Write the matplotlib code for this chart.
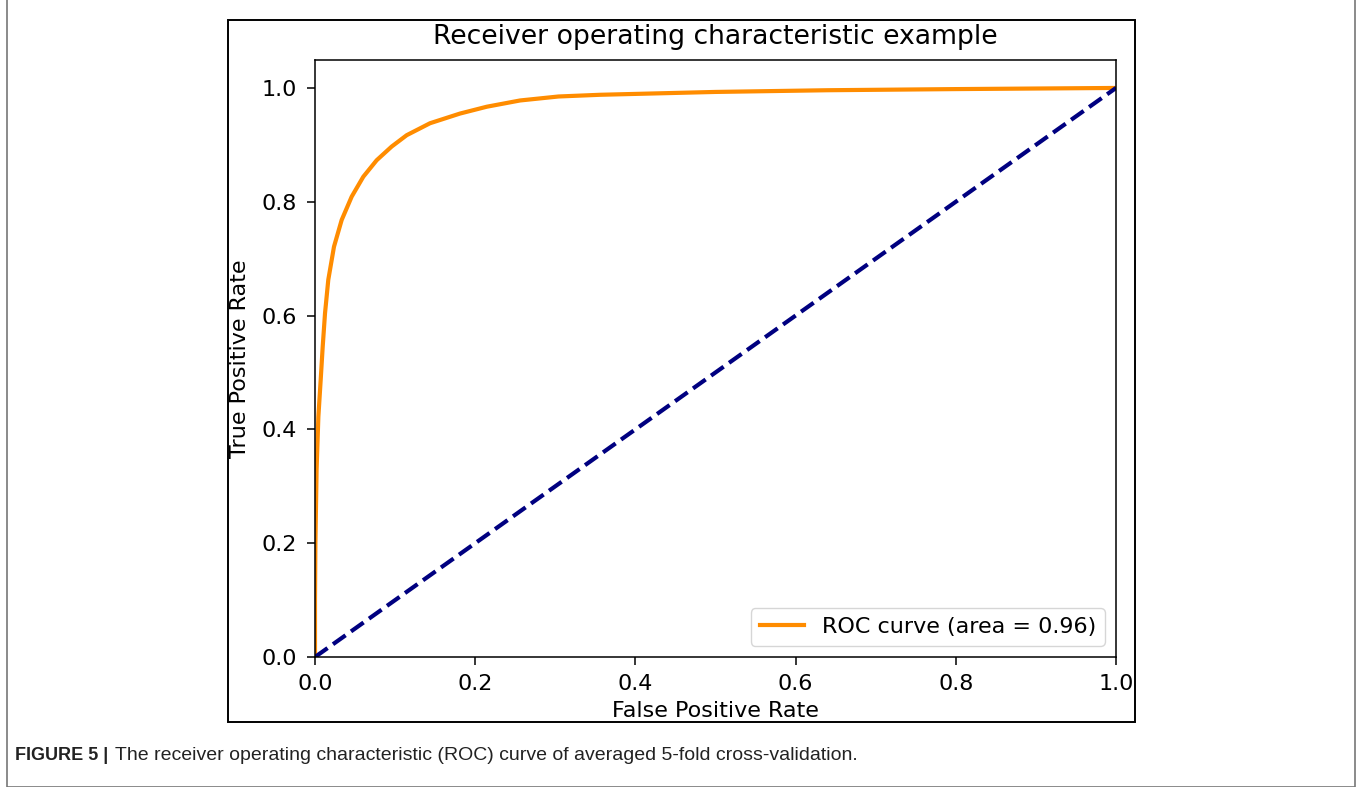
import matplotlib.pyplot as plt
from matplotlib.patches import Rectangle

# averaged ROC curve
fpr = [0.0, 0.0, 0.0005, 0.002, 0.0042, 0.0071, 0.0096, 0.0125, 0.0166,
       0.0237, 0.0333, 0.0458, 0.0603, 0.077, 0.0957, 0.1145, 0.1436,
       0.181, 0.2144, 0.256, 0.304, 0.356, 0.50, 0.64, 0.80, 1.0]
tpr = [0.0, 0.10, 0.20, 0.33, 0.422, 0.487, 0.545, 0.604, 0.663,
       0.721, 0.768, 0.809, 0.844, 0.873, 0.897, 0.917, 0.938,
       0.955, 0.967, 0.978, 0.985, 0.988, 0.993, 0.996, 0.998, 1.0]
roc_auc = 0.96
chance = [0.0, 1.0]

W, H = 1357, 787


def px_box(x0, y0, x1, y1):
    # pixel box (top-left origin) -> figure fraction rect
    return [x0 / W, 1 - y1 / H, (x1 - x0) / W, (y1 - y0) / H]


fig = plt.figure(figsize=(W / 100, H / 100), dpi=100)

# outer page frame and inner figure frame
fig.add_artist(Rectangle((7 / W, 0), (1355 - 7) / W, 1 - 6 / H + 0.02,
                         transform=fig.transFigure, fill=False,
                         edgecolor="#777777", linewidth=1.2))
b = px_box(228, 20, 1135, 722)
fig.add_artist(Rectangle((b[0], b[1]), b[2], b[3], transform=fig.transFigure,
                         fill=False, edgecolor="black", linewidth=1.4))

fs = 16
ax = fig.add_axes(px_box(315, 59.5, 1116, 657))
lw = 3.0
ax.plot(fpr, tpr, color="darkorange", lw=lw,
        label="ROC curve (area = %0.2f)" % roc_auc)
ax.plot(chance, chance, color="navy", lw=lw, linestyle="--")
ax.set_xlim(0.0, 1.0)
ax.set_ylim(0.0, 1.05)
ax.set_xlabel("False Positive Rate", fontsize=fs, labelpad=5)
ax.set_ylabel("True Positive Rate", fontsize=fs, labelpad=8)
ax.set_title("Receiver operating characteristic example", fontsize=19.2, pad=11)
ax.tick_params(labelsize=fs, width=1.1, length=6, pad=6)
ax.tick_params(axis="y", pad=7)
for s in ax.spines.values():
    s.set_linewidth(1.1)
ax.legend(loc="lower right", fontsize=fs, handlelength=2.0,
          borderaxespad=0.5)

cap_font = ["Liberation Sans Narrow", "Liberation Sans", "DejaVu Sans"]
fig.text(15 / W, 1 - 760 / H, "FIGURE 5 |", fontsize=13, fontweight="bold",
         family=cap_font, color="#222222")
fig.text(115 / W, 1 - 760 / H,
         "The receiver operating characteristic (ROC) curve of averaged 5-fold cross-validation.",
         fontsize=14, family=cap_font, color="#222222")

fig.savefig("out.png", dpi=100)
